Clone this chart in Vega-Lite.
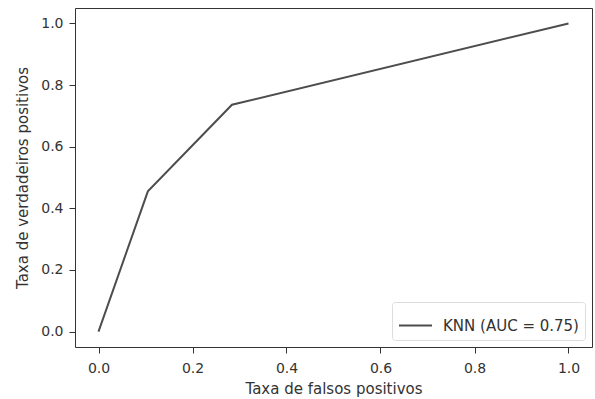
{
  "$schema": "https://vega.github.io/schema/vega-lite/v6.json",
  "width": 517,
  "height": 339,
  "autosize": {"type": "none"},
  "padding": {"left": 75, "top": 8, "right": 3, "bottom": 52},
  "background": "white",
  "config": {
    "view": {"stroke": "#333333", "strokeWidth": 1},
    "font": "DejaVu Sans",
    "axis": {
      "domain": false,
      "grid": false,
      "tickColor": "#333333",
      "tickSize": 6,
      "tickWidth": 1,
      "labelFont": "DejaVu Sans",
      "labelFontSize": 14,
      "labelColor": "#333333",
      "labelPadding": 6,
      "titleFont": "DejaVu Sans",
      "titleFontSize": 15,
      "titleFontWeight": "normal",
      "titleColor": "#333333"
    }
  },
  "data": {
    "values": [
      {"fpr": 0.0, "tpr": 0.0, "model": "KNN (AUC = 0.75)"},
      {"fpr": 0.105, "tpr": 0.455, "model": "KNN (AUC = 0.75)"},
      {"fpr": 0.284, "tpr": 0.736, "model": "KNN (AUC = 0.75)"},
      {"fpr": 1.0, "tpr": 1.0, "model": "KNN (AUC = 0.75)"}
    ]
  },
  "mark": {"type": "line", "strokeWidth": 2, "clip": false},
  "encoding": {
    "x": {
      "field": "fpr",
      "type": "quantitative",
      "scale": {"domain": [-0.05, 1.05], "nice": false, "zero": false},
      "axis": {"values": [0, 0.2, 0.4, 0.6, 0.8, 1.0], "format": ".1f", "title": "Taxa de falsos positivos", "titlePadding": 6, "labelPadding": 8, "labelFlush": false}
    },
    "y": {
      "field": "tpr",
      "type": "quantitative",
      "scale": {"domain": [-0.05, 1.05], "nice": false, "zero": false},
      "axis": {"values": [0, 0.2, 0.4, 0.6, 0.8, 1.0], "format": ".1f", "title": "Taxa de verdadeiros positivos", "titlePadding": 10, "labelFlush": false}
    },
    "order": {"field": "fpr", "type": "quantitative"},
    "color": {
      "field": "model",
      "type": "nominal",
      "scale": {"range": ["#4d4d4d"]},
      "legend": {
        "title": null,
        "orient": "bottom-right",
        "offset": 7,
        "labelFont": "DejaVu Sans",
        "labelFontSize": 15,
        "labelColor": "#333333",
        "symbolType": "stroke",
        "symbolSize": 1089,
        "symbolStrokeWidth": 2,
        "strokeColor": "#dddddd",
        "fillColor": "white",
        "cornerRadius": 3,
        "padding": 6,
        "labelOffset": 10
      }
    }
  }
}
